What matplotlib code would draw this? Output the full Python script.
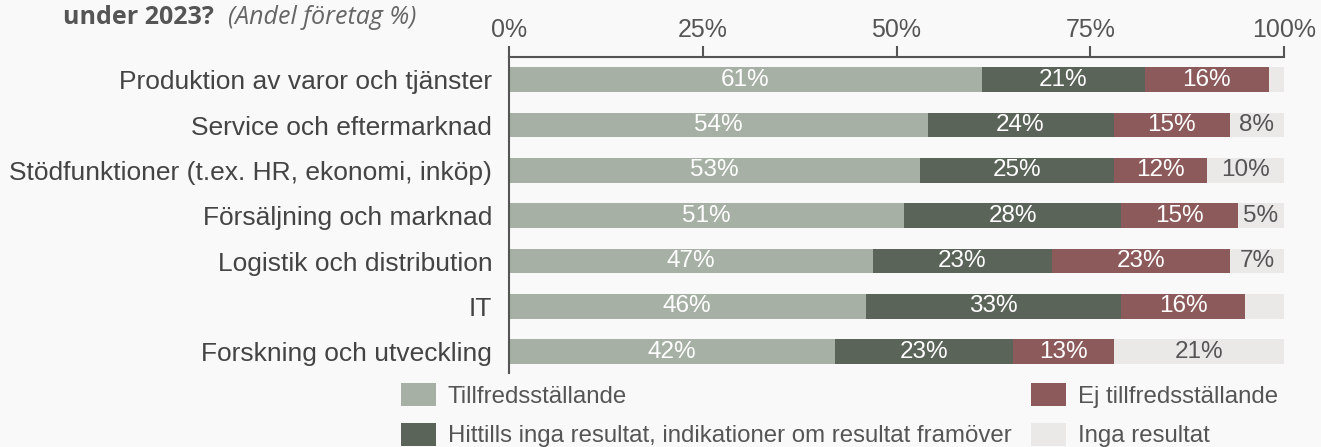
import numpy as np
import matplotlib
matplotlib.use("Agg")
import matplotlib.pyplot as plt
from matplotlib.patches import Patch

categories = [
    "Produktion av varor och tjänster",
    "Service och eftermarknad",
    "Stödfunktioner (t.ex. HR, ekonomi, inköp)",
    "Försäljning och marknad",
    "Logistik och distribution",
    "IT",
    "Forskning och utveckling",
]
tillfreds = [61, 54, 53, 51, 47, 46, 42]
hittills = [21, 24, 25, 28, 23, 33, 23]
ej_tillfreds = [16, 15, 12, 15, 23, 16, 13]
inga = [2, 8, 10, 5, 7, 4, 21]
ticks = [0, 25, 50, 75, 100]

series_names = ["Tillfredsställande",
                "Hittills inga resultat, indikationer om resultat framöver",
                "Ej tillfredsställande", "Inga resultat"]
colors = ["#a6b0a4", "#5b6459", "#8c5a5a", "#ebe8e8"]

font = ["Liberation Sans", "DejaVu Sans"]
bg = "#f9f9f9"
W, H = 1321, 447

fig = plt.figure(figsize=(W / 100, H / 100), dpi=100, facecolor=bg)
ax = fig.add_axes([509 / W, 1 - 373 / H, 775 / W, (373 - 57) / H])
ax.set_facecolor(bg)

y = np.arange(len(categories))
h = 0.55

# grey track for "Inga resultat" behind the other segments
ax.barh(y, [100] * len(y), height=h, color=colors[3], zorder=1)
left = np.zeros(len(y))
for vals, col in zip([tillfreds, hittills, ej_tillfreds], colors[:3]):
    ax.barh(y, vals, left=left, height=h, color=col, zorder=2)
    for yi, l, v in zip(y, left, vals):
        ax.text(l + v / 2, yi, f"{v}%", ha="center", va="center", color="white",
                fontsize=17.5, family=font, zorder=3)
    left = left + np.array(vals)

for yi, l, v in zip(y, left, inga):
    if v >= 5:
        ax.text((l + 100) / 2, yi, f"{v}%", ha="center", va="center", color="#555555",
                fontsize=17.5, family=font, zorder=3)

ax.set_xlim(0, 100)
ax.set_ylim(len(y) - 1 + 0.47, -0.5)
ax.xaxis.tick_top()
ax.set_xticks(ticks)
ax.set_xticklabels([f"{t}%" for t in ticks], family=font, fontsize=18, color="#555555")
ax.tick_params(axis="x", direction="out", length=8, width=1.5, color="#555555", pad=3)
ax.set_yticks(y)
ax.set_yticklabels(categories, family=font, fontsize=19, color="#444444")
ax.tick_params(axis="y", length=0, pad=12)
for s in ["right", "bottom"]:
    ax.spines[s].set_visible(False)
for s in ["top", "left"]:
    ax.spines[s].set_color("#555555")
    ax.spines[s].set_linewidth(1.5)

fig.text(63 / W, 1 - 17 / H, "under 2023?", fontsize=18, fontweight="bold",
         family=["Open Sans", "DejaVu Sans"], color="#555555", va="center")
fig.text(228 / W, 1 - 17 / H, "(Andel företag %)", fontsize=18, style="italic",
         family=["Open Sans", "DejaVu Sans"], color="#666666", va="center")

leg_kw = dict(loc="upper left", frameon=False, prop={"family": font, "size": 17.3},
              labelcolor="#555555", handlelength=1.44, handleheight=1.1, handletextpad=0.5,
              labelspacing=0.62, borderaxespad=0, borderpad=0)
leg1 = fig.legend([Patch(facecolor=colors[0]), Patch(facecolor=colors[1])],
                  [series_names[0], series_names[1]],
                  bbox_to_anchor=(401 / W, 1 - 383 / H), **leg_kw)
leg2 = fig.legend([Patch(facecolor=colors[2]), Patch(facecolor=colors[3])],
                  [series_names[2], series_names[3]],
                  bbox_to_anchor=(1031 / W, 1 - 383 / H), **leg_kw)

fig.savefig("out.png", dpi=100, facecolor=bg)
